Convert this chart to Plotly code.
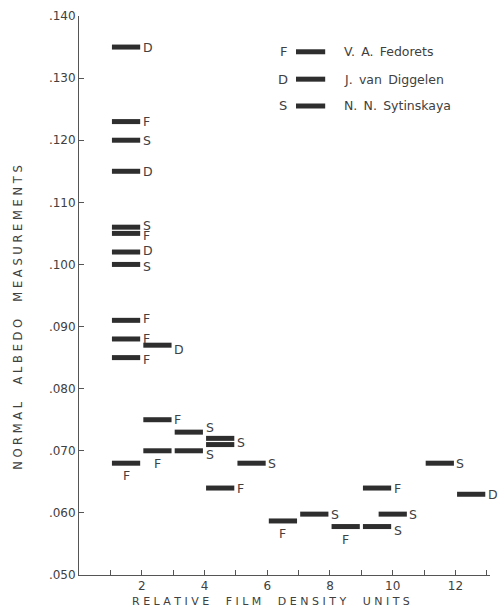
import plotly.graph_objects as go

# ---- data ----
x_start = [1, 1, 1, 1, 1, 1, 1, 1, 1, 1, 1, 1,
           2, 2, 2,
           3, 3,
           4, 4, 4,
           5, 6, 7, 8, 9, 9, 9.5, 11, 12]
albedo = [0.135, 0.123, 0.120, 0.115, 0.106, 0.105, 0.102, 0.100, 0.091, 0.088, 0.085, 0.068,
          0.087, 0.075, 0.070,
          0.073, 0.070,
          0.072, 0.071, 0.064,
          0.068, 0.0587, 0.0598, 0.0578, 0.0578, 0.064, 0.0598, 0.068, 0.063]
observer = ["D", "F", "S", "D", "S", "F", "D", "S", "F", "F", "F", "F",
            "D", "F", "F",
            "S", "S",
            "S", "S", "F",
            "S", "F", "S", "F", "S", "F", "S", "S", "D"]
# label placement: r = right, ru/rd = right nudged up/down, b = below centre,
# br = below right, ar = above right, n = none (shares the neighbouring label)
label_pos = ["r", "r", "r", "r", "ru", "rd", "ru", "rd", "ru", "r", "rd", "b",
             "br", "r", "b",
             "ar", "br",
             "br", "n", "r",
             "r", "b", "r", "b", "br", "r", "r", "r", "r"]
bar_width = 1.0

legend_keys = ["F", "D", "S"]
legend_names = ["V. A. Fedorets", "J. van Diggelen", "N. N. Sytinskaya"]

y_ticks = [0.05, 0.06, 0.07, 0.08, 0.09, 0.10, 0.11, 0.12, 0.13, 0.14]
y_ticktext = [".050", ".060", ".070", ".080", ".090", ".100", ".110", ".120", ".130", ".140"]
x_ticks = list(range(1, 14))
x_ticktext = [str(v) if v % 2 == 0 else "" for v in x_ticks]

INK = "#2e2e2e"
TXT = "#404040"
FONT = "DejaVu Sans"
gap = 0.05

xs, ys = [], []
for x0, y in zip(x_start, albedo):
    xs += [x0 + gap, x0 + bar_width - gap, None]
    ys += [y, y, None]

fig = go.Figure()
fig.add_trace(go.Scatter(x=xs, y=ys, mode="lines",
                         line=dict(color=INK, width=5), hoverinfo="skip",
                         showlegend=False, cliponaxis=False))

annotations = []
for x0, y, lab, pos in zip(x_start, albedo, observer, label_pos):
    if pos == "n":
        continue
    if pos == "b":
        annotations.append(dict(x=x0 + bar_width / 2, y=y, text=lab, showarrow=False,
                                xanchor="center", yanchor="top", yshift=-3,
                                font=dict(size=12.5)))
    else:
        ysh = {"r": 0, "ru": 2, "rd": -2, "br": -4, "ar": 5}[pos]
        annotations.append(dict(x=x0 + bar_width, y=y, text=lab, showarrow=False,
                                xanchor="left", yanchor="middle", xshift=-1, yshift=ysh,
                                font=dict(size=12.5)))

# legend
leg_y = [0.936, 0.887, 0.839]
shapes = []
for k, name, yy in zip(legend_keys, legend_names, leg_y):
    annotations.append(dict(x=0.497, y=yy, xref="paper", yref="paper", text=k,
                            showarrow=False, xanchor="center", yanchor="middle"))
    annotations.append(dict(x=0.64, y=yy, xref="paper", yref="paper",
                            text=name.replace(" ", "\u2002"),
                            showarrow=False, xanchor="left", yanchor="middle",
                            font=dict(size=12.5)))
    shapes.append(dict(type="line", xref="paper", yref="paper", x0=0.528, x1=0.599,
                       y0=yy, y1=yy, line=dict(color=INK, width=5)))

def spaced(s):
    return " ".join(s).replace("   ", "\u2003\u2002")

annotations.append(dict(x=0.467, y=0, xref="paper", yref="paper", yshift=-26,
                        text=spaced("RELATIVE FILM DENSITY UNITS"), showarrow=False,
                        xanchor="center", yanchor="middle", font=dict(size=11)))
annotations.append(dict(x=0, y=0.46, xref="paper", yref="paper", xshift=-61,
                        text=spaced("NORMAL ALBEDO MEASUREMENTS"), showarrow=False,
                        textangle=-90, xanchor="center", yanchor="middle",
                        font=dict(size=11.5)))

fig.update_layout(
    width=498, height=610, autosize=False,
    margin=dict(l=79, r=8, t=16, b=35),
    paper_bgcolor="white", plot_bgcolor="white",
    font=dict(family=FONT, size=13, color=TXT),
    annotations=annotations, shapes=shapes,
    showlegend=False,
)
fig.update_xaxes(range=[0, 13.1], tickmode="array", tickvals=x_ticks, ticktext=x_ticktext,
                 ticks="inside", ticklen=5, tickcolor="#555", showline=True, linecolor="#555",
                 linewidth=1, showgrid=False, zeroline=False, tickfont=dict(size=12))
fig.update_yaxes(range=[0.05, 0.14], tickmode="array", tickvals=y_ticks, ticktext=y_ticktext,
                 ticks="inside", ticklen=5, tickcolor="#555", showline=True, linecolor="#555",
                 linewidth=1, showgrid=False, zeroline=False, tickfont=dict(size=12))

fig.write_html("out.html", config={"displayModeBar": False},
               post_script="document.body.style.margin='0px';"
                           "document.body.style.overflow='hidden';")
